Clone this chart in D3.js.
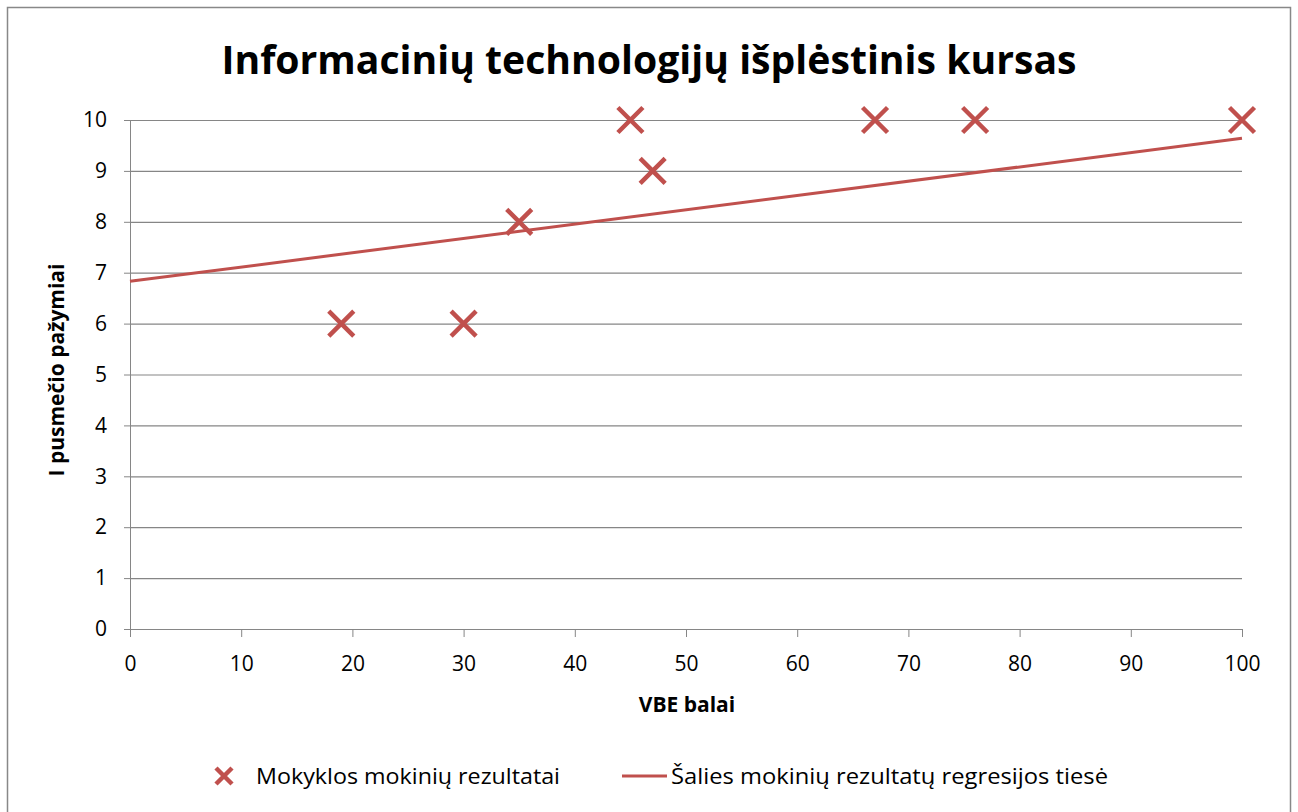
<!DOCTYPE html>
<html><head><meta charset="utf-8">
<script src="https://cdn.jsdelivr.net/npm/d3@7"></script>
<style>body{margin:0;background:#fff;} svg{display:block;font-family:"Open Sans","Liberation Sans",sans-serif;}</style>
</head><body><svg id="c" width="1298" height="812"></svg>
<script>
const pointsX = [19, 30, 35, 45, 47, 67, 76, 100];
const pointsY = [6, 6, 8, 10, 9, 10, 10, 10];
const lineX = [0, 100];
const lineY = [6.83, 9.64];
const xTicks = [0,10,20,30,40,50,60,70,80,90,100];
const yTicks = [0,1,2,3,4,5,6,7,8,9,10];
const title = "Informacinių technologijų išplėstinis kursas";
const xTitle = "VBE balai";
const yTitle = "I pusmečio pažymiai";
const seriesNames = ["Mokyklos mokinių rezultatai", "Šalies mokinių rezultatų regresijos tiesė"];

const svg = d3.select("#c");
const red = "#C0504D", grid = "#868686";
svg.append("rect").attr("x",7.5).attr("y",7.5).attr("width",1283).attr("height",820)
  .attr("fill","#fff").attr("stroke","#888").attr("stroke-width",1.5);

const x = d3.scaleLinear().domain([0,100]).range([130,1242]);
const y = d3.scaleLinear().domain([0,10]).range([629,120]);

svg.append("text").attr("x",649).attr("y",74).attr("text-anchor","middle")
  .attr("font-size",40).attr("font-weight","bold").attr("fill","#000")
  .attr("textLength",855).attr("lengthAdjust","spacingAndGlyphs").text(title);

const ya = svg.append("g").attr("transform","translate(130,0)")
  .call(d3.axisLeft(y).tickValues(yTicks).tickSize(6).tickSizeOuter(0).tickPadding(17));
ya.select(".domain").attr("stroke",grid);
ya.selectAll(".tick line").attr("stroke",grid);
ya.selectAll(".tick text").attr("font-size",21).attr("fill","#000").attr("font-family","Open Sans, Liberation Sans, sans-serif");
svg.append("g").selectAll("line").data(yTicks.filter(d=>d>0)).join("line")
  .attr("x1",130).attr("x2",1242).attr("y1",d=>y(d)+0.5).attr("y2",d=>y(d)+0.5)
  .attr("stroke",grid).attr("stroke-width",1.2);

const xa = svg.append("g").attr("transform","translate(0,629)")
  .call(d3.axisBottom(x).tickValues(xTicks).tickSize(8).tickSizeOuter(0).tickPadding(19));
xa.select(".domain").attr("stroke",grid);
xa.selectAll(".tick line").attr("stroke",grid);
xa.selectAll(".tick text").attr("font-size",21).attr("fill","#000").attr("font-family","Open Sans, Liberation Sans, sans-serif");

svg.append("text").attr("x",687).attr("y",712).attr("text-anchor","middle")
  .attr("font-size",21).attr("font-weight","bold").text(xTitle);
svg.append("text").attr("transform","translate(64,370) rotate(-90)").attr("text-anchor","middle")
  .attr("font-size",21).attr("font-weight","bold").text(yTitle);

svg.append("path").datum(lineX.map((d,i)=>[d,lineY[i]]))
  .attr("d",d3.line().x(d=>x(d[0])).y(d=>y(d[1])))
  .attr("stroke",red).attr("stroke-width",3).attr("fill","none");

function cross(g, cx, cy, r, w){
  g.append("path").attr("d",`M${cx-r},${cy-r}L${cx+r},${cy+r}M${cx-r},${cy+r}L${cx+r},${cy-r}`)
   .attr("stroke",red).attr("stroke-width",w).attr("fill","none");
}
const mg = svg.append("g");
pointsX.forEach((px,i)=>cross(mg, x(px), y(pointsY[i]), 12.5, 4.5));

cross(svg, 224, 776, 8, 4.5);
svg.append("text").attr("x",256).attr("y",784).attr("font-size",22)
  .attr("textLength",304).attr("lengthAdjust","spacingAndGlyphs").text(seriesNames[0]);
svg.append("line").attr("x1",622).attr("x2",667).attr("y1",776).attr("y2",776)
  .attr("stroke",red).attr("stroke-width",3);
svg.append("text").attr("x",671).attr("y",784).attr("font-size",22)
  .attr("textLength",437).attr("lengthAdjust","spacingAndGlyphs").text(seriesNames[1]);
</script></body></html>
